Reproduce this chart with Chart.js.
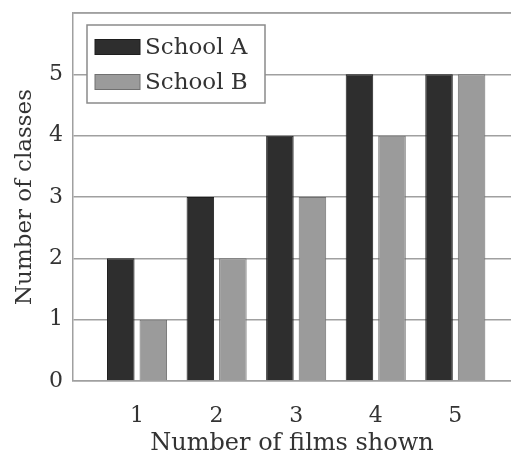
<!DOCTYPE html>
<html>
<head>
<meta charset="utf-8">
<script src="https://cdn.jsdelivr.net/npm/chart.js@4"></script>
<style>
  html, body { margin: 0; padding: 0; background: #fff; }
  #wrap { width: 511px; height: 459px; }
</style>
</head>
<body>
<div id="wrap"><canvas id="chart" width="511" height="459"></canvas></div>
<script>
// Data
const films = [1, 2, 3, 4, 5];
const schoolA = [2, 3, 4, 5, 5];
const schoolB = [1, 2, 3, 4, 5];
const seriesNames = ['School A', 'School B'];

const FONT = 'DejaVu Serif';
const TEXT = '#333';
const GRID = '#a0a0a0';

// boxed legend drawn inside the plot, plus the top frame line
const boxLegend = {
    id: 'boxLegend',
    afterDatasetsDraw(chart) {
        const ctx = chart.ctx;
        const area = chart.chartArea;
        ctx.save();
        ctx.strokeStyle = GRID;
        ctx.lineWidth = 1.5;
        ctx.beginPath();
        ctx.moveTo(area.left, area.top);
        ctx.lineTo(area.right, area.top);
        ctx.stroke();

        const x = 87, y = 25, w = 178, h = 78;
        ctx.fillStyle = '#fff';
        ctx.fillRect(x, y, w, h);
        ctx.strokeStyle = '#8a8a8a';
        ctx.strokeRect(x, y, w, h);
        ctx.font = '23px "' + FONT + '"';
        ctx.textBaseline = 'middle';
        chart.data.datasets.forEach((ds, i) => {
            const cy = 47 + i * 35;
            ctx.fillStyle = ds.backgroundColor;
            ctx.fillRect(95, cy - 7.5, 45, 15);
            ctx.strokeStyle = ds.borderColor;
            ctx.lineWidth = 1;
            ctx.strokeRect(95, cy - 7.5, 45, 15);
            ctx.fillStyle = TEXT;
            ctx.fillText(ds.label, 145, cy + 1);
        });
        ctx.restore();
    }
};

new Chart(document.getElementById('chart'), {
    type: 'bar',
    data: {
        datasets: [{
            label: seriesNames[0],
            data: films.map((f, i) => ({ x: f, y: schoolA[i] })),
            backgroundColor: '#2e2e2e',
            borderColor: '#1e1e1e',
            borderWidth: 1
        }, {
            label: seriesNames[1],
            data: films.map((f, i) => ({ x: f, y: schoolB[i] })),
            backgroundColor: '#9b9b9b',
            borderColor: '#707070',
            borderWidth: 1
        }]
    },
    options: {
        responsive: false,
        animation: false,
        categoryPercentage: 0.818,
        barPercentage: 0.846,
        layout: { padding: { top: 13, right: 0, left: 0, bottom: 0 } },
        plugins: {
            legend: { display: false },
            tooltip: { enabled: false }
        },
        scales: {
            x: {
                type: 'linear',
                offset: false,
                min: 0.195,
                max: 5.7,
                afterBuildTicks: s => { s.ticks = films.map(v => ({ value: v })); },
                afterFit: s => { s.height = 78; s.paddingLeft = 0; s.paddingRight = 0; },
                grid: { display: false, drawTicks: false, offset: false },
                border: { display: true, color: GRID, width: 1.5 },
                ticks: {
                    padding: 22,
                    color: TEXT,
                    font: { family: FONT, size: 22 }
                },
                title: {
                    display: true,
                    text: 'Number of films shown',
                    color: TEXT,
                    font: { family: FONT, size: 24 },
                    padding: { top: 0, bottom: 1 }
                }
            },
            y: {
                min: 0,
                max: 6,
                afterFit: s => { s.width = 73; s.paddingTop = 0; s.paddingBottom = 0; },
                grid: { color: GRID, lineWidth: 1.5, drawTicks: false },
                border: { display: true, color: GRID, width: 1.5 },
                ticks: {
                    stepSize: 1,
                    padding: 10,
                    color: TEXT,
                    font: { family: FONT, size: 22 },
                    callback: v => (v === 6 ? '' : v)
                },
                title: {
                    display: true,
                    text: 'Number of classes',
                    color: TEXT,
                    font: { family: FONT, size: 23 },
                    padding: { top: 11, bottom: 0 }
                }
            }
        }
    },
    plugins: [boxLegend]
});
</script>
</body>
</html>
